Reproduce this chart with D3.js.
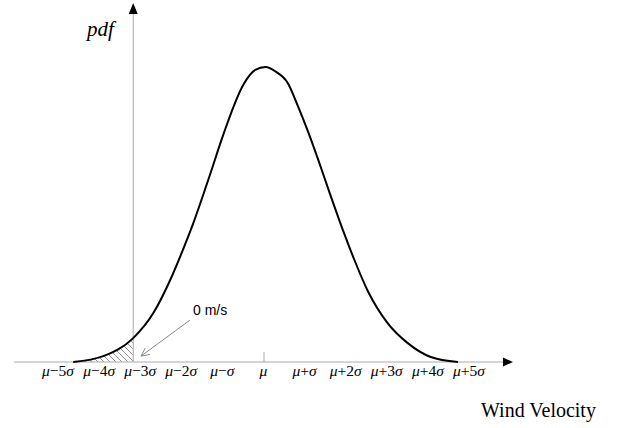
<!DOCTYPE html>
<html>
<head>
<meta charset="utf-8">
<script src="https://cdn.jsdelivr.net/npm/d3@7"></script>
<style>
  body { margin: 0; background: #fff; }
  svg { display: block; }
</style>
</head>
<body>
<div id="chart"></div>
<script>
// x in units of sigma from the mean, y relative to the peak height
const curveX = [-4.63, -3.90, -3.17, -2.68, -2.27, -2.02, -1.71, -1.29, -0.98, -0.49, -0.20, 0.05,
                0.29, 0.59, 0.83, 1.10, 1.32, 1.63, 1.95, 2.20, 2.54, 3.02, 3.51, 4.07, 4.73];
const curveY = [0, 0.02, 0.081, 0.166, 0.278, 0.36, 0.47, 0.64, 0.77, 0.94, 0.99, 1.0,
                0.985, 0.946, 0.87, 0.775, 0.69, 0.565, 0.44, 0.35, 0.24, 0.132, 0.064, 0.017, 0];

const tickValues = [-5, -4, -3, -2, -1, 0, 1, 2, 3, 4, 5];
const tickLabels = ["μ−5σ", "μ−4σ", "μ−3σ", "μ−2σ", "μ−σ", "μ", "μ+σ", "μ+2σ", "μ+3σ", "μ+4σ", "μ+5σ"];

const zeroSpeed = -3.17;   // where 0 m/s sits on the sigma axis
const xExtent = [-6.07, 6.07];
const yTop = 1.217;

const width = 619, height = 428;

const svg = d3.select("#chart").append("svg")
    .attr("width", width)
    .attr("height", height);

const x = d3.scaleLinear().domain([-5, 5]).range([58, 469]);
const y = d3.scaleLinear().domain([0, 1]).range([362, 67]);

const points = curveX.map((v, i) => ({x: v, y: curveY[i]}));

// hatch pattern
const defs = svg.append("defs");
defs.append("pattern")
    .attr("id", "hatch")
    .attr("patternUnits", "userSpaceOnUse")
    .attr("width", 6)
    .attr("height", 6)
    .append("path")
    .attr("d", "M-1,5 L1,7 M0,0 L6,6 M5,-1 L7,1")
    .attr("stroke", "#777")
    .attr("stroke-width", 0.8);

// shaded tail below 0 m/s
svg.append("path")
    .datum(points.filter(d => d.x <= zeroSpeed))
    .attr("fill", "url(#hatch)")
    .attr("d", d3.area()
        .x(d => x(d.x))
        .y0(y(0))
        .y1(d => y(d.y))
        .curve(d3.curveMonotoneX));

// axes
const axisColor = "#aaa";
svg.append("line")
    .attr("x1", x(xExtent[0])).attr("x2", x(xExtent[1]) - 8)
    .attr("y1", y(0)).attr("y2", y(0))
    .attr("stroke", axisColor).attr("stroke-width", 1);

svg.append("line")
    .attr("x1", x(zeroSpeed)).attr("x2", x(zeroSpeed))
    .attr("y1", y(0)).attr("y2", y(yTop) + 8)
    .attr("stroke", axisColor).attr("stroke-width", 1);

// arrow heads
const hx = x(xExtent[1]), hy = y(0);
svg.append("path")
    .attr("d", `M${hx},${hy} L${hx - 10},${hy - 4.5} L${hx - 10},${hy + 4.5} Z`)
    .attr("fill", "#000");

const vx = x(zeroSpeed), vy = y(yTop);
svg.append("path")
    .attr("d", `M${vx},${vy} L${vx - 4.5},${vy + 11} L${vx + 4.5},${vy + 11} Z`)
    .attr("fill", "#000");

// tick at the mean
svg.append("line")
    .attr("x1", x(0) + 0.5).attr("x2", x(0) + 0.5)
    .attr("y1", y(0) - 10).attr("y2", y(0))
    .attr("stroke", axisColor).attr("stroke-width", 1);

// tick labels, mu and sigma in italic
const labels = svg.append("g")
    .attr("font-family", "'Liberation Serif', 'Times New Roman', serif")
    .attr("font-size", 15.5)
    .attr("fill", "#000")
    .selectAll("text")
    .data(tickValues)
    .enter().append("text")
    .attr("x", d => x(d))
    .attr("y", 376)
    .attr("text-anchor", "middle");

labels.each(function(d, i) {
    const t = d3.select(this);
    Array.from(tickLabels[i]).forEach(ch => {
        t.append("tspan")
            .attr("font-style", (ch === "μ" || ch === "σ") ? "italic" : "normal")
            .text(ch);
    });
});

// density curve
svg.append("path")
    .datum(points)
    .attr("fill", "none")
    .attr("stroke", "#000")
    .attr("stroke-width", 2)
    .attr("stroke-linejoin", "round")
    .attr("d", d3.line()
        .x(d => x(d.x))
        .y(d => y(d.y))
        .curve(d3.curveMonotoneX));

// 0 m/s annotation
const a0 = [x(-1.79), y(0.142)], a1 = [x(-2.98), y(0.02)];
svg.append("line")
    .attr("x1", a0[0]).attr("y1", a0[1])
    .attr("x2", a1[0]).attr("y2", a1[1])
    .attr("stroke", "#888").attr("stroke-width", 1);
const ang = Math.atan2(a0[1] - a1[1], a0[0] - a1[0]);
[-0.45, 0.45].forEach(off => {
    svg.append("line")
        .attr("x1", a1[0]).attr("y1", a1[1])
        .attr("x2", a1[0] + 9 * Math.cos(ang + off))
        .attr("y2", a1[1] + 9 * Math.sin(ang + off))
        .attr("stroke", "#888").attr("stroke-width", 1);
});

svg.append("text")
    .attr("x", x(-1.715))
    .attr("y", y(0.159))
    .attr("font-family", "'Liberation Sans', Arial, sans-serif")
    .attr("font-size", 14)
    .text("0 m/s");

// axis titles
svg.append("text")
    .attr("x", 87)
    .attr("y", 36)
    .attr("font-family", "'Liberation Serif', 'Times New Roman', serif")
    .attr("font-style", "italic")
    .attr("font-size", 21)
    .text("pdf");

svg.append("text")
    .attr("x", 481)
    .attr("y", 417)
    .attr("font-family", "'Liberation Serif', 'Times New Roman', serif")
    .attr("font-size", 20)
    .text("Wind Velocity");
</script>
</body>
</html>
